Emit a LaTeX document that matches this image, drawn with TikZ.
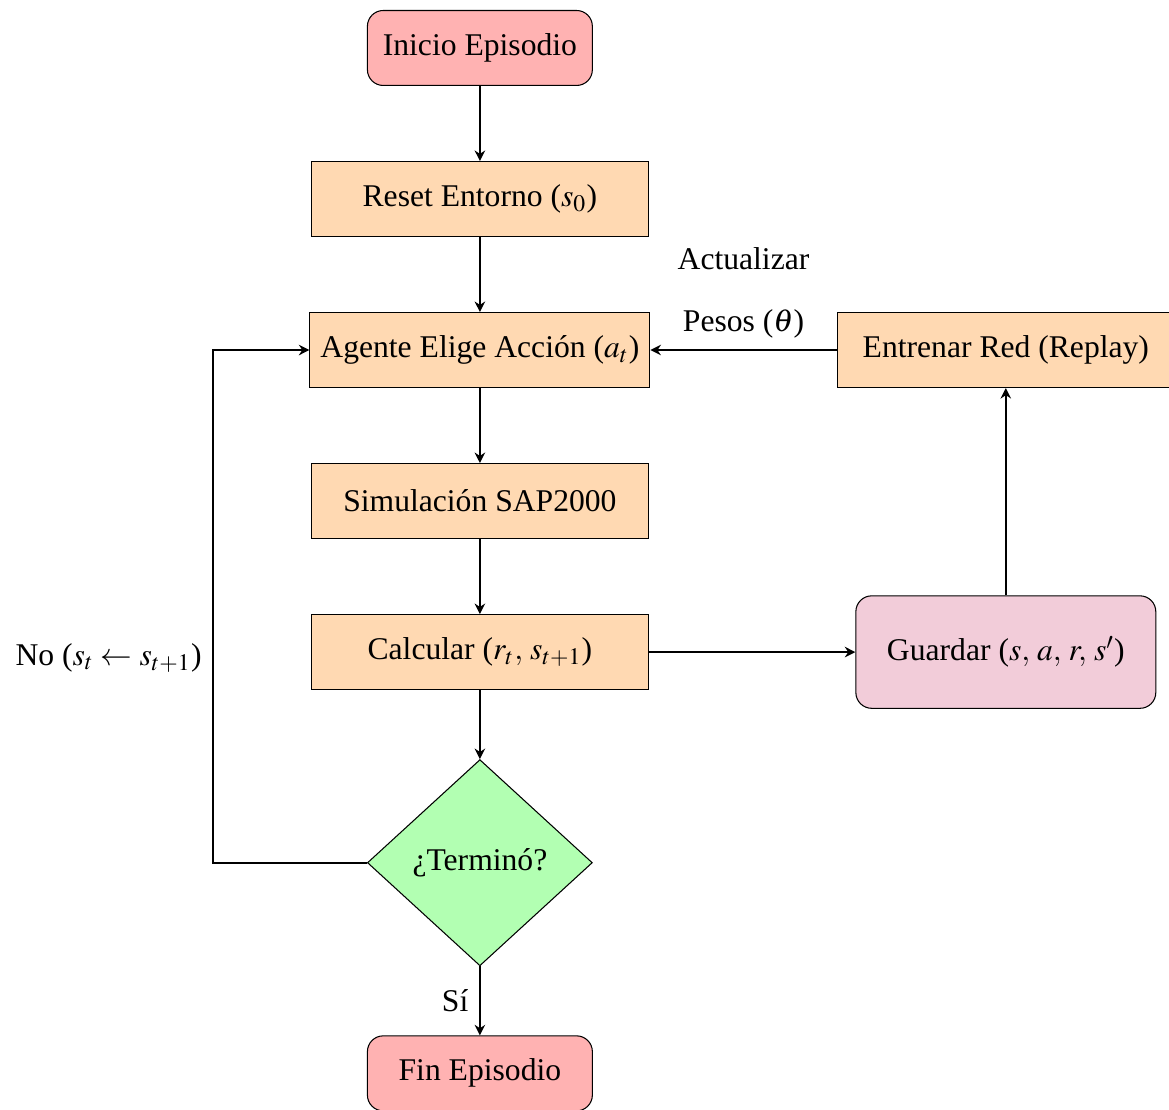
\documentclass[tikz,border=0pt,12pt]{standalone}
\usepackage{mathptmx}
\usepackage{fontspec}
\setmainfont{Liberation Serif}
\usepackage{tikz}
\usetikzlibrary{shapes.geometric,arrows.meta,positioning}
\tikzset{
  startstop/.style={rectangle, rounded corners=6pt, draw=black, fill=red!30,
                    minimum width=3cm, minimum height=1cm, align=center},
  process/.style  ={rectangle, draw=black, fill=orange!30,
                    minimum width=4.5cm, minimum height=1cm, align=center},
  decision/.style ={diamond, draw=black, fill=green!30, inner sep=0pt,
                    minimum width=3cm, minimum height=2.75cm, align=center},
  memory/.style   ={rectangle, rounded corners=6pt, draw=black, fill=purple!20,
                    minimum width=4cm, minimum height=1.5cm, align=center},
  arrow/.style    ={thick, -{Stealth[length=1.4mm, width=1.4mm]}}
}
\begin{document}
\begin{tikzpicture}[node distance=1cm, font=\fontsize{12}{14.5}\selectfont]
\useasboundingbox (-6.4,0.64) rectangle (9.19,-14.15);
\node[startstop] (inicio) at (0,0) {Inicio Episodio};
\node[process, below=of inicio] (reset) {Reset Entorno ($s_0$)};
\node[process, below=of reset] (agente) {Agente Elige Acción ($a_t$)};
\node[process, below=of agente] (sim) {Simulación SAP2000};
\node[process, below=of sim] (calc) {Calcular ($r_t,\, s_{t+1}$)};
\node[decision, below=0.92cm of calc] (term) {¿Terminó?};
\node[startstop, below=0.92cm of term] (fin) {Fin Episodio};
\node[memory, right=2.75cm of calc] (guardar) {Guardar ($s,\, a,\, r,\, s'$)};
\node[process] (entrenar) at (guardar |- agente) {Entrenar Red (Replay)};

% flujo principal
\draw[arrow] (inicio) -- (reset);
\draw[arrow] (reset) -- (agente);
\draw[arrow] (agente) -- (sim);
\draw[arrow] (sim) -- (calc);
\draw[arrow] (calc) -- (term);
\draw[arrow] (term) -- node[left]{Sí} (fin);

% replay
\draw[arrow] (calc) -- (guardar);
\draw[arrow] (guardar) -- (entrenar);
\draw[arrow] (entrenar) -- node[above, align=center]{Actualizar\\[9pt]Pesos ($\theta$)} (agente);

% bucle
\draw[arrow] (term.west) -- ++(-2.05,0) |- node[pos=0.2, left]{No ($s_t \leftarrow s_{t+1}$)} (agente.west);
\end{tikzpicture}
\end{document}
